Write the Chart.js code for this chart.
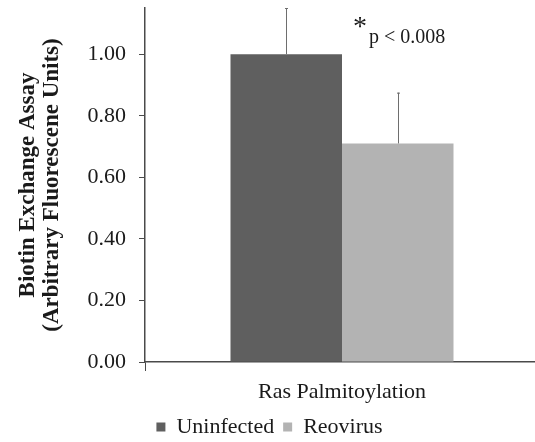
<!DOCTYPE html>
<html>
<head>
<meta charset="utf-8">
<script src="https://cdn.jsdelivr.net/npm/chart.js@4/dist/chart.umd.min.js"></script>
<style>
html,body{margin:0;padding:0;background:#fff;overflow:hidden;}
#wrap{position:absolute;left:0;top:0;width:540px;height:442px;}
</style>
</head>
<body>
<div id="wrap"><canvas id="c" width="540" height="442"></canvas></div>
<script>
const categories = ["Ras Palmitoylation"];
const seriesNames = ["Uninfected", "Reovirus"];
const uninfected = [1.00];
const reovirus = [0.71];
const uninfectedErr = [0.15];
const reovirusErr = [0.165];
const yTicks = [0.00, 0.20, 0.40, 0.60, 0.80, 1.00];
const yMax = 1.15;
const annotationStar = "*";
const annotationText = "p < 0.008";
const yTitle = ["Biotin Exchange Assay", "(Arbitrary Fluorescene Units)"];

const serif = "'Liberation Serif', 'Times New Roman', serif";

const errorBars = {
  id: 'errorBars',
  afterDatasetsDraw(chart) {
    const ctx = chart.ctx;
    const ys = chart.scales.y;
    const errs = [uninfectedErr, reovirusErr];
    const vals = [uninfected, reovirus];
    chart.data.datasets.forEach((ds, di) => {
      const meta = chart.getDatasetMeta(di);
      meta.data.forEach((bar, i) => {
        const top = ys.getPixelForValue(vals[di][i] + errs[di][i]);
        const x = Math.round(bar.x) + 0.5;
        ctx.save();
        ctx.strokeStyle = '#6e6e6e';
        ctx.lineWidth = 1;
        ctx.beginPath();
        ctx.moveTo(x, bar.y);
        ctx.lineTo(x, top);
        ctx.moveTo(x - 1.5, top + 0.5);
        ctx.lineTo(x + 1.5, top + 0.5);
        ctx.stroke();
        ctx.restore();
      });
    });
  }
};

const annotation = {
  id: 'annotation',
  afterDraw(chart) {
    const ctx = chart.ctx;
    const xs = chart.scales.x;
    const ys = chart.scales.y;
    const x0 = xs.getPixelForValue(0) + 11;
    const y1 = ys.getPixelForValue(1.0);
    ctx.save();
    ctx.fillStyle = '#1a1a1a';
    ctx.textBaseline = 'alphabetic';
    ctx.font = "28px " + serif;
    ctx.fillText(annotationStar, x0, y1 - 19);
    ctx.font = "20px " + serif;
    ctx.fillText(annotationText, x0 + 16, y1 - 11);
    ctx.restore();
  }
};

new Chart(document.getElementById('c'), {
  type: 'bar',
  data: {
    labels: categories,
    datasets: [
      { label: seriesNames[0], data: uninfected, backgroundColor: '#5f5f5f', borderWidth: 0 },
      { label: seriesNames[1], data: reovirus, backgroundColor: '#b3b3b3', borderWidth: 0 }
    ]
  },
  options: {
    responsive: false,
    animation: false,
    devicePixelRatio: 1,
    layout: { padding: { top: 8, right: 1, left: 0, bottom: 0 } },
    datasets: { bar: { categoryPercentage: 0.566, barPercentage: 1.0 } },
    plugins: {
      legend: {
        position: 'bottom',
        maxHeight: 35,
        labels: {
          font: { family: serif, size: 22 },
          color: '#1a1a1a',
          boxWidth: 9,
          boxHeight: 9,
          padding: 9
        }
      },
      tooltip: { enabled: false }
    },
    scales: {
      x: {
        afterFit(scale) { scale.height = 45; scale.paddingLeft = 0; scale.paddingRight = 0; },
        grid: { offset: true, drawOnChartArea: false, tickLength: 9, color: '#4a4a4a', lineWidth: 1 },
        border: { color: '#4a4a4a', width: 1.5 },
        ticks: { font: { family: serif, size: 22 }, color: '#1a1a1a', padding: 8 }
      },
      y: {
        min: 0,
        max: yMax,
        afterBuildTicks(scale) {
          scale.ticks = yTicks.map(v => ({ value: v }));
        },
        afterFit(scale) { scale.width = 145; scale.paddingTop = 0; scale.paddingBottom = 0; },
        grid: { drawOnChartArea: false, tickLength: 6, color: '#4a4a4a', lineWidth: 1 },
        border: { color: '#4a4a4a', width: 1.5 },
        ticks: {
          font: { family: serif, size: 22 },
          color: '#1a1a1a',
          padding: 13,
          callback: v => Number(v).toFixed(2)
        },
        title: {
          display: true,
          text: yTitle,
          font: { family: serif, size: 23, weight: 'bold', lineHeight: 1.05 },
          color: '#1a1a1a',
          padding: { top: 16, bottom: 0 }
        }
      }
    }
  },
  plugins: [errorBars, annotation]
});
</script>
</body>
</html>
